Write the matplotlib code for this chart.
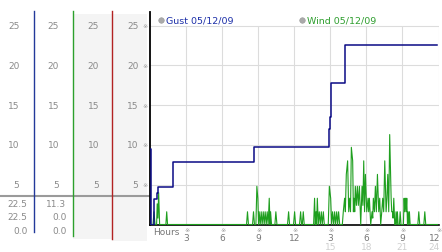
import matplotlib
matplotlib.use("Agg")
import matplotlib.pyplot as plt
from matplotlib.patches import Rectangle
from matplotlib.transforms import blended_transform_factory as blend

W, H = 442, 253

# gust: step line (hour, mph)
gust_hours = [0, 0.05, 0.33, 0.6, 0.7, 1.95, 8.62, 14.87, 14.95, 15.05, 16.2, 23.9]
gust_mph = [9.5, 0, 3.2, 4.0, 4.7, 7.9, 9.7, 12.0, 13.5, 17.8, 22.6, 22.6]

# wind: raw samples
wind_hours = [0, 0.25, 0.33, 0.42, 0.55, 0.6, 0.66, 0.72, 0.8, 1.32, 1.39, 1.46,
              8.03, 8.11, 8.19, 8.53, 8.61, 8.69, 8.81, 8.89, 8.97, 9.03, 9.08, 9.17,
              9.25, 9.33, 9.42, 9.5, 9.58, 9.67, 9.75, 9.83, 9.92, 9.98, 10.03, 10.11,
              10.39, 10.47, 10.56, 11.44, 11.53, 11.61, 11.94, 12.03, 12.11, 12.44, 12.53, 12.61,
              12.67, 12.75, 12.83,
              13.61, 13.69, 13.75, 13.81, 13.86, 13.92, 14.0, 14.08, 14.17, 14.25, 14.33, 14.42, 14.5,
              14.83, 14.92, 15.03, 15.11, 15.19, 15.28, 15.36, 15.44, 15.53, 15.61, 15.69, 15.78,
              16.0, 16.08, 16.19, 16.25, 16.33, 16.44, 16.53, 16.61, 16.68, 16.75, 16.86, 16.92,
              16.97, 17.03, 17.08, 17.17, 17.25, 17.33, 17.42, 17.53, 17.64, 17.71, 17.78, 17.85,
              17.92, 18.03, 18.14, 18.19, 18.25, 18.36, 18.47, 18.53, 18.58, 18.67, 18.75, 18.83,
              18.92, 19.03, 19.11, 19.19, 19.28, 19.36, 19.44, 19.53, 19.64, 19.71, 19.78, 19.86,
              19.94, 20.06, 20.11, 20.17, 20.22, 20.28, 20.36,
              20.42, 20.47, 20.53, 20.58, 20.64, 20.75, 20.81, 20.88,
              21.08, 21.14, 21.19, 21.25, 21.31, 21.36, 21.42, 21.47, 21.53, 21.58, 21.64,
              22.28, 22.36, 22.44, 22.78, 22.86, 22.94, 23.92]
wind_mph = [0, 0, 1.6, 0, 0, 2.6, 0.8, 4.0, 0, 0, 1.6, 0,
            0, 1.6, 0, 0, 1.6, 0, 0, 4.8, 3.3, 0, 1.6, 0,
            1.6, 0, 1.6, 0, 1.6, 0, 1.6, 0, 3.3, 0, 1.6, 0,
            0, 1.6, 0, 0, 1.6, 0, 0, 1.6, 0, 0, 1.6, 0,
            0, 1.6, 0,
            0, 3.3, 0, 1.6, 0, 3.3, 0, 1.6, 0, 1.6, 0, 1.6, 0,
            0, 4.8, 3.3, 0, 1.6, 0, 1.6, 0, 1.6, 0, 1.6, 0,
            0, 1.6, 3.3, 1.6, 6.3, 8.0, 1.6, 3.3, 1.6, 9.7, 8.0, 1.6,
            3.3, 1.6, 4.8, 2.4, 4.8, 2.4, 4.8, 0, 4.8, 2.4, 8.0, 1.6,
            6.3, 1.6, 3.3, 1.6, 3.3, 0, 1.6, 0.8, 3.3, 1.6, 4.8, 1.6,
            6.3, 1.6, 3.3, 0, 1.6, 3.3, 1.6, 8.0, 1.6, 3.3, 6.3, 1.6,
            11.3, 3.3, 1.6, 1.6, 0.8, 3.3, 0,
            0, 1.6, 0, 1.6, 0, 0, 1.6, 0,
            0, 3.3, 1.6, 3.3, 1.6, 3.3, 0, 1.6, 0, 1.6, 0,
            0, 1.6, 0, 0, 1.6, 0, 0]

y_ticks = [5, 10, 15, 20, 25]
x_ticks = [3, 6, 9, 12, 15, 18, 21, 24]
x_labels = ['3', '6', '9', '12', '3', '6', '9', '12']
x_labels_day2 = ['', '', '', '', '15', '18', '21', '24']

gust_summary = ['22.5', '22.5', '0.0']
wind_summary = ['11.3', '0.0', '0.0']

GUST = '#0a0a85'
WIND = '#1f9f1f'
GRID = '#dcdcdc'
TXT = '#8a8a8a'
PANEL = '#f4f4f4'

fig = plt.figure(figsize=(W / 100, H / 100), dpi=100)
fig.patch.set_facecolor('white')

# pixel canvas for the side panel / annotations
bg = fig.add_axes([0, 0, 1, 1], zorder=0)
bg.set_xlim(0, W)
bg.set_ylim(H, 0)
bg.axis('off')

# main chart
ax = fig.add_axes([150 / W, (H - 225.5) / H, 288.5 / W, 212.5 / H], zorder=2)
ax.set_xlim(0, 24)
ax.set_ylim(0, 26.7)
ax.patch.set_alpha(0)
for s in ['top', 'right']:
    ax.spines[s].set_visible(False)
ax.spines['left'].set_linewidth(1.3)
ax.spines['bottom'].set_linewidth(1.2)
ax.set_xticks([])
ax.set_yticks([])

ax.hlines(y_ticks, 0, 24, color=GRID, lw=0.8, zorder=0)
ax.vlines(x_ticks, 0, 25, color=GRID, lw=0.8, zorder=0)

ax.plot(wind_hours, wind_mph, color=WIND, lw=0.8, zorder=3)
ax.plot(gust_hours, gust_mph, color=GUST, lw=1.1, drawstyle='steps-post', zorder=4)

# legend-ish labels
bg.plot([161], [20.5], 'o', ms=4, color='#aaaaaa', mec='#999999', mew=0.4)
bg.text(166, 20.5, 'Gust 05/12/09', color='#1c2fa8', fontsize=6.8, va='center')
bg.plot([302], [20.5], 'o', ms=4, color='#aaaaaa', mec='#999999', mew=0.4)
bg.text(307, 20.5, 'Wind 05/12/09', color='#2e9e2e', fontsize=6.8, va='center')

# side panel columns
bg.add_patch(Rectangle((72.5, 15), 39, 225, color=PANEL, lw=0, zorder=0))
bg.add_patch(Rectangle((112, 15), 35, 227, color=PANEL, lw=0, zorder=0))
bg.plot([0, 150], [196.7, 196.7], color='#9a9a9a', lw=1.5, zorder=1)
for x, c, bottom in [(33.5, '#23399a', 233), (72.5, '#2ca02c', 237), (111.5, '#b22222', 240)]:
    bg.plot([x, x], [12, bottom], color=c, lw=1.0, zorder=2)

ty = blend(bg.transData, ax.transData)
for v in y_ticks:
    for xr in [19.5, 59, 99, 138.5]:
        bg.text(xr, v, str(v), transform=ty, ha='right', va='center',
                color=TXT, fontsize=6.5)
    bg.text(145.5, v, '\u203b', transform=ty, ha='center', va='center',
            color='#999999', fontsize=4.5)

for i, (g, w) in enumerate(zip(gust_summary, wind_summary)):
    y = 204.5 + i * 13.3
    bg.text(27.5, y, g, ha='right', va='center', color=TXT, fontsize=6.5)
    bg.text(66.5, y, w, ha='right', va='center', color=TXT, fontsize=6.5)

# x axis labels
tx = blend(ax.transData, bg.transData)
bg.text(153, 233, 'Hours', ha='left', va='center', color='#777777', fontsize=6.5)
for h, lab, lab2 in zip(x_ticks, x_labels, x_labels_day2):
    last = h == x_ticks[-1]
    bg.text(h + 0.08, 230.5, '\u203b', transform=tx, ha='center', va='center',
            color='#999999', fontsize=4.5)
    ha = 'right' if last else 'center'
    hx = h + 0.12 if last else h
    bg.text(hx, 238.5, lab, transform=tx, ha=ha, va='center',
            color='#777777', fontsize=6.5)
    if lab2:
        bg.text(hx, 248, lab2, transform=tx, ha=ha, va='center',
                color='#cfcfcf', fontsize=6.5)

fig.savefig('out.png', dpi=100, facecolor='white')
